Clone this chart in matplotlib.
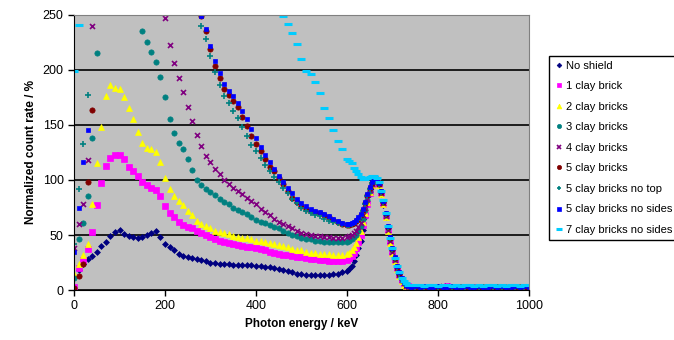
import numpy as np
import matplotlib
matplotlib.use('Agg')
import matplotlib.pyplot as plt

plt.rcParams['font.family'] = ['Liberation Sans', 'DejaVu Sans']

nan = np.nan

# photon energy (keV): 10 keV steps, 5 keV steps across the 662 keV peak
energia = list(range(0, 600, 10)) + list(range(600, 741, 5)) + list(range(750, 1001, 10))

# count rate normalised to the peak (%); points above the top of the chart are nan
sem_blindagem = [3, 18, 24, 28, 31, 35, 40, 44, 49, 53,
                 55, 51, 49, 48, 47, 48, 50, 52, 54, 48,
                 42, 39, 36, 33, 31, 30, 29, 28, 27, 26,
                 25, 25, 24, 24, 24, 23, 23, 23, 23, 23,
                 22, 22, 21, 21, 20, 19, 18, 17, 16, 15,
                 15, 14, 14, 14, 14, 14, 14, 15, 15, 16,
                 17, 19, 22, 26, 32, 38, 45, 55, 66, 77, 87, 94, 99,
                 100, 95, 87, 77, 66, 53, 43, 34, 26, 19, 13, 8, 6, 4, 3, 3,
                 3, 2, 2, 3, 2, 2, 2, 3, 2, 2, 2, 2, 3, 2, 2, 2, 2, 3, 2, 2, 2, 3, 2, 2, 3, 2]

tijolo_1 = [3, 20, 27, 37, 53, 77, 97, 113, 120, 123,
            123, 119, 112, 108, 104, 98, 95, 93, 91, 85,
            76, 70, 66, 62, 59, 57, 56, 54, 52, 50,
            48, 46, 45, 44, 43, 42, 41, 40, 39, 39,
            38, 37, 36, 35, 34, 33, 32, 32, 31, 30,
            30, 29, 28, 28, 27, 27, 26, 26, 26, 26,
            27, 29, 31, 34, 38, 44, 50, 59, 68, 78, 88, 95, 99,
            100, 96, 88, 78, 67, 55, 44, 35, 27, 20, 14, 9, 6, 5, 4, 3,
            3, 3, 2, 3, 3, 2, 3, 4, 3, 2, 3, 3, 2, 3, 3, 2, 3, 3, 2, 3, 2, 3, 3, 2, 3, 3]

tijolos_2 = [15, 24, 32, 42, 78, 115, 148, 176, 186, 184,
             183, 175, 165, 155, 144, 134, 129, 128, 125, 116,
             102, 92, 85, 81, 77, 72, 68, 63, 60, 58,
             56, 54, 53, 52, 51, 49, 48, 47, 47, 46,
             45, 45, 44, 43, 42, 41, 40, 39, 37, 36,
             36, 35, 34, 34, 33, 33, 33, 32, 32, 32,
             33, 34, 36, 39, 43, 48, 54, 62, 70, 80, 89, 95, 99,
             100, 95, 87, 78, 66, 54, 43, 34, 26, 19, 13, 8, 5, 4, 3, 3,
             2, 2, 2, 2, 3, 2, 2, 2, 2, 2, 2, 2, 3, 2, 2, 2, 2, 2, 2, 2, 2, 2, 2, 2, 2, 2]

tijolos_3 = [11, 46, 61, 85, 138, 215, nan, nan, nan, nan,
             nan, nan, nan, nan, nan, 235, 225, 216, 207, 194,
             175, 155, 143, 134, 128, 119, 109, 100, 95, 92,
             89, 86, 83, 80, 78, 75, 73, 71, 69, 66,
             64, 62, 61, 59, 57, 56, 54, 52, 50, 49,
             47, 46, 46, 45, 45, 44, 44, 44, 44, 44,
             44, 45, 46, 48, 50, 54, 58, 65, 73, 82, 90, 96, 99,
             100, 96, 89, 80, 68, 56, 46, 36, 28, 21, 15, 10, 7, 5, 4, 3,
             3, 3, 3, 2, 3, 3, 3, 2, 3, 3, 2, 3, 3, 3, 2, 3, 3, 2, 3, 3, 3, 2, 3, 3, 2, 3]

tijolos_4 = [38, 60, 78, 118, 240, nan, nan, nan, nan, nan,
             nan, nan, nan, nan, nan, nan, nan, nan, nan, nan,
             247, 223, 206, 193, 180, 166, 154, 141, 131, 122,
             116, 110, 105, 100, 96, 93, 90, 87, 84, 81,
             78, 74, 71, 68, 65, 62, 60, 58, 56, 54,
             52, 51, 50, 49, 49, 48, 48, 47, 47, 47,
             48, 49, 50, 52, 54, 57, 61, 68, 75, 83, 91, 96, 99,
             100, 96, 88, 79, 67, 55, 45, 35, 27, 20, 14, 9, 6, 4, 3, 3,
             3, 3, 3, 3, 2, 3, 4, 4, 3, 3, 3, 2, 3, 3, 3, 2, 3, 3, 3, 2, 3, 3, 2, 3, 3, 3]

tijolos_5 = [2, 13, 24, 98, 164, nan, nan, nan, nan, nan,
             nan, nan, nan, nan, nan, nan, nan, nan, nan, nan,
             nan, nan, nan, nan, nan, nan, nan, nan, 249, 235,
             219, 204, 193, 183, 177, 172, 166, 157, 149, 140,
             133, 126, 119, 112, 108, 102, 96, 90, 84, 80,
             76, 74, 72, 71, 70, 68, 66, 64, 62, 60,
             59, 59, 60, 61, 63, 65, 68, 73, 79, 86, 93, 97, 100,
             101, 96, 89, 80, 69, 57, 47, 37, 29, 21, 15, 10, 7, 5, 4, 3,
             3, 3, 3, 2, 3, 3, 2, 3, 3, 3, 2, 3, 3, 2, 3, 3, 3, 2, 3, 3, 2, 3, 3, 3, 2, 3]

tijolos_5_sem_topo = [42, 92, 133, 177, nan, nan, nan, nan, nan, nan,
                      nan, nan, nan, nan, nan, nan, nan, nan, nan, nan,
                      nan, nan, nan, nan, nan, nan, nan, nan, 240, 228,
                      213, 198, 186, 176, 170, 163, 156, 148, 140, 132,
                      126, 120, 114, 108, 103, 98, 93, 88, 83, 79,
                      75, 72, 70, 68, 67, 65, 63, 62, 61, 60,
                      59, 59, 60, 61, 62, 64, 67, 72, 78, 85, 92, 97, 100,
                      101, 96, 89, 80, 69, 57, 47, 37, 29, 21, 15, 10, 7, 5, 4, 3,
                      3, 3, 2, 3, 3, 3, 2, 3, 3, 2, 3, 3, 3, 2, 3, 3, 2, 3, 3, 3, 2, 3, 3, 2, 3, 3]

tijolos_5_sem_lados = [35, 75, 116, 145, nan, nan, nan, nan, nan, nan,
                       nan, nan, nan, nan, nan, nan, nan, nan, nan, nan,
                       nan, nan, nan, nan, nan, nan, nan, nan, 249, 237,
                       222, 208, 197, 187, 181, 176, 170, 163, 155, 146,
                       138, 130, 123, 116, 110, 104, 98, 93, 88, 83,
                       79, 76, 74, 72, 71, 69, 67, 65, 63, 61,
                       60, 60, 61, 62, 64, 66, 69, 74, 80, 87, 94, 98, 101,
                       101, 97, 90, 81, 70, 58, 48, 38, 30, 22, 16, 11, 7, 5, 4, 3,
                       4, 3, 4, 3, 3, 4, 3, 3, 4, 3, 3, 4, 3, 3, 4, 3, 3, 4, 3, 4, 3, 3, 4, 3, 4, 3]

tijolos_7_sem_lados = [199, 241, nan, nan, nan, nan, nan, nan, nan, nan,
                       nan, nan, nan, nan, nan, nan, nan, nan, nan, nan,
                       nan, nan, nan, nan, nan, nan, nan, nan, nan, nan,
                       nan, nan, nan, nan, nan, nan, nan, nan, nan, nan,
                       nan, nan, nan, nan, nan, nan, 249, 242, 234, 224,
                       210, 199, 196, 189, 179, 165, 156, 145, 135, 128,
                       119, 117, 115, 111, 108, 105, 103, 101, 101, 102, 103, 104, 104,
                       102, 98, 90, 82, 70, 58, 47, 38, 29, 22, 16, 11, 8, 6, 5, 5,
                       5, 5, 4, 5, 5, 4, 5, 5, 4, 5, 4, 5, 5, 4, 5, 4, 5, 5, 4, 5, 4, 5, 5, 4, 5, 5]

series = [
    ('No shield', sem_blindagem, 'D', '#000080', 3.0),
    ('1 clay brick', tijolo_1, 's', '#FF00FF', 3.8),
    ('2 clay bricks', tijolos_2, '^', '#FFFF00', 4.3),
    ('3 clay bricks', tijolos_3, 'o', '#008080', 3.8),
    ('4 clay bricks', tijolos_4, 'x', '#800080', 3.6),
    ('5 clay bricks', tijolos_5, 'o', '#800000', 3.8),
    ('5 clay bricks no top', tijolos_5_sem_topo, '+', '#008080', 4.3),
    ('5 clay bricks no sides', tijolos_5_sem_lados, 's', '#0000FF', 3.0),
    ('7 clay bricks no sides', tijolos_7_sem_lados, '_', '#00CCFF', 6.0),
]

fig = plt.figure(figsize=(6.74, 3.40), dpi=100)
ax = fig.add_axes([0.1098, 0.147, 0.675, 0.809])
ax.set_facecolor('#C0C0C0')

for nome, valores, marcador, cor, tam in series:
    if marcador == '_':
        mew = 2.2
    elif marcador in ('x', '+'):
        mew = 1.2
    else:
        mew = 0.5
    ax.plot(energia, valores, linestyle='none', marker=marcador, color=cor,
            markersize=tam, markeredgewidth=mew, label=nome)

ax.set_xlim(0, 1000)
ax.set_ylim(0, 250)
ax.set_xticks(range(0, 1001, 200))
ax.set_yticks(range(0, 251, 50))
ax.yaxis.grid(True, color='black', linewidth=1.2)
ax.set_axisbelow(True)
ax.tick_params(labelsize=9, length=4, direction='out', width=1)
for lado in ['top', 'right']:
    ax.spines[lado].set_color('#808080')
for lado in ['left', 'bottom']:
    ax.spines[lado].set_color('black')

ax.set_xlabel('Photon energy / keV', fontsize=8.5, fontweight='bold')
ax.set_ylabel('Normalized count rate / %', fontsize=8.5, fontweight='bold')

leg = fig.legend(loc='upper left', bbox_to_anchor=(0.806, 0.853), fontsize=8,
                 frameon=True, fancybox=False, edgecolor='black', framealpha=1,
                 borderpad=0.45, labelspacing=0.95, handletextpad=0.1,
                 handlelength=1.0, markerscale=0.8)
leg.get_frame().set_linewidth(1.0)

fig.savefig('out.png', dpi=100)
